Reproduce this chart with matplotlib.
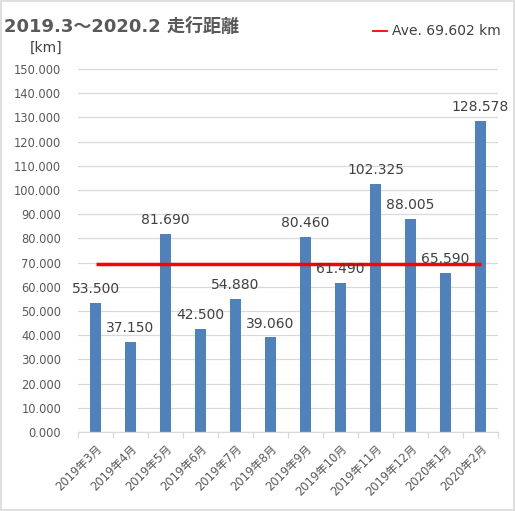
import matplotlib
matplotlib.use("Agg")
import matplotlib.pyplot as plt
from matplotlib.patches import Rectangle
from matplotlib.lines import Line2D

plt.rcParams["font.family"] = ["DejaVu Sans", "Noto Sans CJK JP"]

MONTHS = ["2019年3月", "2019年4月", "2019年5月", "2019年6月", "2019年7月",
          "2019年8月", "2019年9月", "2019年10月", "2019年11月", "2019年12月",
          "2020年1月", "2020年2月"]
DIST_KM = [53.500, 37.150, 81.690, 42.500, 54.880, 39.060,
           80.460, 61.490, 102.325, 88.005, 65.590, 128.578]
AVE_KM = 69.602
Y_TICKS = [0, 10, 20, 30, 40, 50, 60, 70, 80, 90, 100, 110, 120, 130, 140, 150]

BAR = "#4F81BD"
GRID = "#D9D9D9"
TXT = "#595959"

fig = plt.figure(figsize=(5.15, 5.11), dpi=100)
fig.patches.append(Rectangle((0.001, 0.001), 0.997, 0.997, transform=fig.transFigure,
                             fill=False, edgecolor=GRID, lw=1.2))
ax = fig.add_axes([0.1515, 0.1546, 0.8155, 0.7104])

x = range(len(MONTHS))
ax.bar(x, DIST_KM, width=0.32, color=BAR, zorder=2)
ax.plot([0, len(MONTHS) - 1], [AVE_KM, AVE_KM], color="#FF0000", lw=2.5,
        solid_capstyle="butt", zorder=3)

for xi, v in zip(x, DIST_KM):
    ax.annotate(f"{v:.3f}", (xi, v), xytext=(0, 5), textcoords="offset points",
                ha="center", va="bottom", fontsize=10, color="#404040", zorder=4)

ax.set_xlim(-0.5, len(MONTHS) - 0.5)
ax.set_ylim(0, 150)
ax.set_yticks(Y_TICKS)
ax.set_yticklabels([f"{t:.3f}" for t in Y_TICKS], fontsize=8.3, color=TXT)
ax.yaxis.grid(True, color=GRID, lw=0.9, zorder=0)
ax.tick_params(axis="y", length=0, pad=12)

ax.set_xticks(list(x))
ax.set_xticklabels(MONTHS, rotation=45, ha="right", rotation_mode="anchor",
                   fontsize=8.3, color=TXT)
ax.set_xticks([i - 0.5 for i in range(len(MONTHS) + 1)], minor=True)
ax.tick_params(axis="x", which="major", length=0, pad=7)
ax.tick_params(axis="x", which="minor", length=4, color=GRID, width=0.9)

for s in ["top", "right", "left"]:
    ax.spines[s].set_visible(False)
ax.spines["bottom"].set_color(GRID)
ax.spines["bottom"].set_linewidth(0.9)

fig.text(0.008, 0.947, "2019.3～2020.2 走行距離", fontsize=13, fontweight="bold",
         color=TXT, va="center", ha="left")
fig.text(0.058, 0.907, "[km]", fontsize=10, color="#404040", va="center", ha="left")

fig.lines.append(Line2D([0.724, 0.752], [0.939, 0.939], transform=fig.transFigure,
                        color="#FF0000", lw=1.3))
fig.text(0.762, 0.939, "Ave. 69.602 km", fontsize=10, color="#404040",
         va="center", ha="left")

fig.savefig("out.png", dpi=100)
